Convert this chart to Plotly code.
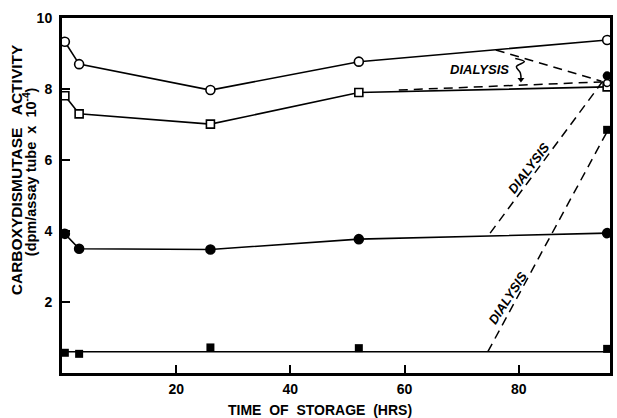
import plotly.graph_objects as go

# Storage times (hours)
hours = [0.5, 3, 26, 52, 95.5]

# Carboxydismutase activity (dpm/assay tube x 10^-4)
open_circle = [9.33, 8.70, 7.97, 8.77, 9.38]
open_square = [7.81, 7.30, 7.01, 7.90, 8.06]
filled_circle = [3.92, 3.50, 3.48, 3.77, 3.94]
filled_square = [0.57, 0.54, 0.72, 0.70, 0.68]
filled_square_level = [0.60, 0.60]
level_hours = [0, 96]

# Activity after dialysis (measured at the end of storage)
dialysis_hours = [95.5, 95.5, 95.5]
dialysis_open_circle = [8.17]
dialysis_filled_circle = [8.37]
dialysis_filled_square = [6.85]

# Dashed dialysis connectors: (start hour, start value) -> (end hour, end value)
dash_open_circle_x = [76, 94.5]
dash_open_circle_y = [9.10, 8.22]
dash_open_square_x = [59, 94.5]
dash_open_square_y = [7.97, 8.20]
dash_filled_circle_x = [75, 95.2]
dash_filled_circle_y = [3.94, 8.32]
dash_filled_square_x = [74.6, 95.5]
dash_filled_square_y = [0.60, 6.80]

# Curly brace with arrow beside the horizontal DIALYSIS label
brace_x = [79.4, 81.0, 79.6, 80.3, 80.4]
brace_y = [8.86, 8.77, 8.63, 8.45, 8.27]

x_ticks = [20, 40, 60, 80]
y_ticks = [2, 4, 6, 8, 10]

INK = "black"
FONT = "Liberation Sans"

fig = go.Figure()

def solid(x, y, symbol, fill, size):
    fig.add_trace(go.Scatter(
        x=x, y=y, mode="lines+markers",
        line=dict(color=INK, width=1.6),
        marker=dict(symbol=symbol, size=size, color=fill,
                    line=dict(color=INK, width=1.6)),
        showlegend=False, hoverinfo="skip"))

def dashed(x, y):
    fig.add_trace(go.Scatter(
        x=x, y=y, mode="lines",
        line=dict(color=INK, width=1.5, dash="9px,6px"),
        showlegend=False, hoverinfo="skip"))

# Dashed dialysis lines (drawn first so the markers sit on top)
dashed(dash_open_circle_x, dash_open_circle_y)
dashed(dash_open_square_x, dash_open_square_y)
dashed(dash_filled_circle_x, dash_filled_circle_y)
dashed(dash_filled_square_x, dash_filled_square_y)

# Storage curves
solid(hours, open_circle, "circle", "white", 9)
solid(hours, open_square, "square", "white", 8)
solid(hours, filled_circle, "circle", INK, 9)

# Filled squares: flat reference level plus individual points
fig.add_trace(go.Scatter(
    x=level_hours, y=filled_square_level, mode="lines",
    line=dict(color=INK, width=1.6), showlegend=False, hoverinfo="skip"))
fig.add_trace(go.Scatter(
    x=hours, y=filled_square, mode="markers",
    marker=dict(symbol="square", size=8, color=INK),
    showlegend=False, hoverinfo="skip"))

# Post-dialysis points
fig.add_trace(go.Scatter(
    x=dialysis_hours[:1], y=dialysis_open_circle, mode="markers",
    marker=dict(symbol="circle", size=7, color="white", line=dict(color=INK, width=1.5)),
    showlegend=False, hoverinfo="skip"))
fig.add_trace(go.Scatter(
    x=dialysis_hours[1:2], y=dialysis_filled_circle, mode="markers",
    marker=dict(symbol="circle", size=9, color=INK),
    showlegend=False, hoverinfo="skip"))
fig.add_trace(go.Scatter(
    x=dialysis_hours[2:], y=dialysis_filled_square, mode="markers",
    marker=dict(symbol="square", size=8, color=INK),
    showlegend=False, hoverinfo="skip"))

# Brace and arrowhead
fig.add_trace(go.Scatter(
    x=brace_x, y=brace_y, mode="lines",
    line=dict(color=INK, width=1.5, shape="spline"),
    showlegend=False, hoverinfo="skip"))
fig.add_trace(go.Scatter(
    x=brace_x[-1:], y=brace_y[-1:], mode="markers",
    marker=dict(symbol="triangle-down", size=6, color=INK),
    showlegend=False, hoverinfo="skip"))

label_font = dict(family=FONT, size=13, color=INK, style="italic", weight="bold")
title_font = dict(family=FONT, size=14, color=INK, weight="bold")
annotations = [
    dict(x=73.2, y=8.54, xref="x", yref="y", text="DIALYSIS",
         showarrow=False, font=label_font),
    dict(x=81.7, y=5.77, xref="x", yref="y", text="DIALYSIS",
         showarrow=False, font=label_font, textangle=-53),
    dict(x=78.0, y=2.11, xref="x", yref="y", text="DIALYSIS",
         showarrow=False, font=label_font, textangle=-57),
    # Axis titles (placed in pixels, converted below)
    dict(x=321, y=410, text="TIME  OF  STORAGE  (HRS)",
         showarrow=False, font=title_font),
    dict(x=16, y=170, text="CARBOXYDISMUTASE   ACTIVITY", textangle=-90,
         showarrow=False, font=dict(family=FONT, size=15.5, color=INK, weight="bold")),
    dict(x=30, y=172, text="(dpm/assay tube  x  10<sup>-4</sup>)", textangle=-90,
         showarrow=False, font=dict(family=FONT, size=14.5, color=INK, weight="bold")),
]

# Convert pixel-placed title annotations to paper coordinates
W, H = 617, 418
L, R, T, B = 62, 4, 18, 45
pw, ph = W - L - R, H - T - B
for a in annotations[3:]:
    a["xref"] = "paper"
    a["yref"] = "paper"
    a["xanchor"] = "center"
    a["yanchor"] = "middle"
    a["x"] = (a["x"] - L) / pw
    a["y"] = (H - B - a["y"]) / ph
fig.update_layout(annotations=annotations)

axis_common = dict(
    showline=True, linecolor=INK, linewidth=3, mirror=True,
    ticks="inside", ticklen=8, tickwidth=1.5, tickcolor=INK,
    showgrid=False, zeroline=False,
    tickfont=dict(family=FONT, size=14, color=INK, weight="bold"),
)

fig.update_xaxes(range=[0, 96], tickvals=x_ticks, ticklabelstandoff=1, **axis_common)
fig.update_yaxes(range=[0, 10], tickvals=y_ticks, ticklabelstandoff=4, **axis_common)

fig.update_layout(
    width=W, height=H,
    margin=dict(l=L, r=R, t=T, b=B, pad=0),
    paper_bgcolor="white", plot_bgcolor="white",
    showlegend=False,
)

fig.write_html("out.html")
